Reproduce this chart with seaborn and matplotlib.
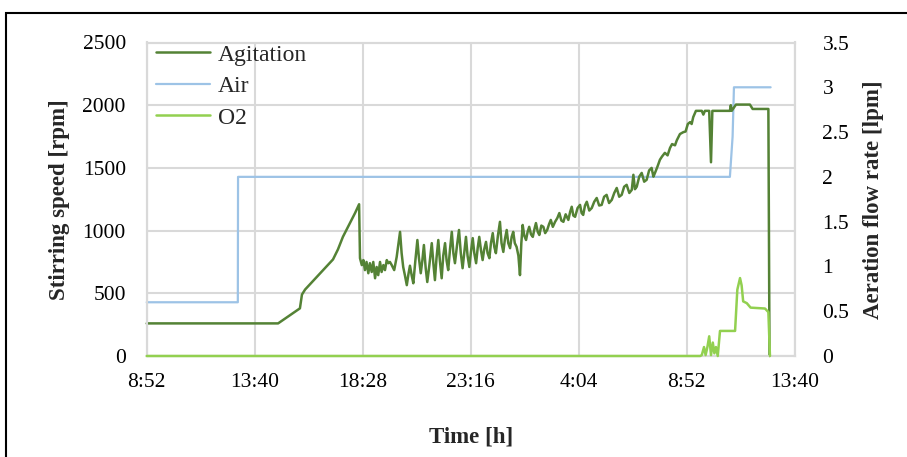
import matplotlib
matplotlib.use("Agg")
import matplotlib.pyplot as plt
from matplotlib.lines import Line2D
from matplotlib.patches import Rectangle
import seaborn as sns

# Time in hours after 8:52 (start of run)
agit_t = [0, 5.84, 6.81, 6.90, 7.04, 7.35, 7.61, 7.92, 8.28, 8.50, 8.72, 9.03, 9.26, 9.44,
          9.48, 9.56, 9.63, 9.70, 9.77, 9.85, 9.92, 10.00, 10.07, 10.15, 10.22, 10.29,
          10.37, 10.44, 10.52, 10.59, 10.67, 10.74, 10.81, 10.89, 11.00, 11.11, 11.26,
          11.33, 11.40, 11.48, 11.56, 11.63, 11.70, 11.78, 11.85, 11.94, 12.03, 12.10,
          12.18, 12.25, 12.32, 12.40, 12.47, 12.56, 12.67, 12.74, 12.81, 12.88, 12.96,
          13.03, 13.11, 13.18, 13.26, 13.33, 13.40, 13.48, 13.56, 13.63, 13.70, 13.79,
          13.88, 13.96, 14.04, 14.11, 14.19, 14.26, 14.34, 14.41, 14.49, 14.56, 14.64,
          14.71, 14.78, 14.86, 14.93, 15.00, 15.08, 15.15, 15.23, 15.30, 15.38, 15.45,
          15.52, 15.61, 15.70, 15.77, 15.85, 15.92, 16.00, 16.07, 16.15, 16.22, 16.29,
          16.36, 16.44, 16.52, 16.59, 16.65, 16.71, 16.78, 16.86, 16.93, 17.00, 17.08,
          17.16, 17.23, 17.30, 17.38, 17.45, 17.54, 17.63, 17.71, 17.80, 17.88, 17.96,
          18.05, 18.15, 18.25, 18.34, 18.43, 18.52, 18.62, 18.74, 18.82, 18.89, 18.96,
          19.04, 19.15, 19.26, 19.33, 19.40, 19.48, 19.56, 19.67, 19.78, 19.89, 20.00,
          20.11, 20.22, 20.33, 20.44, 20.55, 20.67, 20.78, 20.89, 21.00, 21.11, 21.22,
          21.33, 21.45, 21.56, 21.63, 21.70, 21.78, 21.89, 22.00, 22.11, 22.22, 22.33,
          22.44, 22.52, 22.59, 22.70, 22.81, 22.90, 23.03, 23.15, 23.26, 23.35, 23.48,
          23.56, 23.70, 23.85, 23.95, 24.05, 24.15, 24.22, 24.29, 24.41, 24.67, 24.74,
          24.81, 25.00, 25.08, 25.14, 25.92, 25.96, 26.00, 26.19, 26.81, 26.93, 27.63,
          27.68]
agit_rpm = [260, 260, 380, 490, 530, 590, 640, 700, 770, 850, 950, 1060, 1140, 1210,
            780, 725, 765, 685, 750, 660, 740, 670, 750, 620, 710, 645,
            750, 670, 725, 685, 765, 740, 750, 725, 685, 790, 990,
            820, 710, 640, 565, 650, 720, 640, 580, 760, 925, 780,
            660, 760, 885, 700, 590, 720, 900, 740, 605, 780, 925,
            760, 620, 800, 900, 760, 685, 850, 990, 820, 740, 880,
            1005, 820, 700, 820, 950, 800, 710, 830, 940, 820, 740,
            860, 950, 840, 765, 850, 910, 820, 780, 900, 980, 870,
            820, 960, 1070, 900, 830, 930, 1005, 900, 860, 950, 990,
            900, 870, 800, 645, 900, 1045, 960, 925, 990, 1030, 970,
            950, 1010, 1060, 990, 965, 1040, 1030, 980, 1005, 1050, 1085,
            1030, 1070, 1100, 1140, 1080, 1070, 1130, 1085, 1150, 1190, 1120,
            1110, 1180, 1205, 1140, 1125, 1200, 1230, 1160, 1180, 1230, 1260,
            1200, 1205, 1270, 1285, 1220, 1245, 1300, 1340, 1270, 1285, 1350,
            1365, 1300, 1325, 1445, 1330, 1350, 1430, 1460, 1390, 1405, 1480,
            1500, 1430, 1460, 1510, 1565, 1590, 1620, 1600, 1660, 1690, 1680,
            1720, 1770, 1785, 1790, 1850, 1865, 1850, 1905, 1955, 1955, 1925,
            1955, 1955, 1545, 1955, 1955, 2000, 1955, 2005, 2005, 1970, 1970,
            0]

air_t = [0, 4.05, 4.06, 25.92, 26.04, 26.10, 27.73]
air_lpm = [0.6, 0.6, 2.0, 2.0, 2.45, 3.0, 3.0]

o2_t = [0, 24.60, 24.67, 24.77, 24.84, 24.92, 25.00, 25.08, 25.16, 25.23, 25.30, 25.38,
        25.48, 26.15, 26.25, 26.37, 26.44, 26.51, 26.67, 26.84, 27.48, 27.63, 27.70]
o2_lpm = [0, 0, 0.01, 0.10, 0.01, 0.10, 0.22, 0.01, 0.15, 0.03, 0.10, 0.0,
          0.28, 0.28, 0.74, 0.87, 0.79, 0.61, 0.59, 0.54, 0.53, 0.49, 0.0]

x_ticks = [0, 4.8, 9.6, 14.4, 19.2, 24.0, 28.8]
x_labels = ["8:52", "13:40", "18:28", "23:16", "4:04", "8:52", "13:40"]
rpm_ticks = [0, 500, 1000, 1500, 2000, 2500]
lpm_ticks = [0, 0.5, 1, 1.5, 2, 2.5, 3, 3.5]
lpm_labels = ["0", "0.5", "1", "1.5", "2", "2.5", "3", "3.5"]

C_AGIT = "#548235"
C_AIR = "#9DC3E6"
C_O2 = "#92D050"
C_GRID = "#D9D9D9"

sns.set_theme(style="white")
plt.rcParams["font.family"] = ["Liberation Serif", "DejaVu Serif"]

fig = plt.figure(figsize=(9.07, 4.57), dpi=100)
ax = fig.add_axes([146.7 / 907, 1 - 356 / 457, 648 / 907, 313.5 / 457])
ax2 = ax.twinx()

sns.lineplot(x=air_t, y=air_lpm, ax=ax2, color=C_AIR, lw=1.6,
             estimator=None, sort=False)
sns.lineplot(x=o2_t, y=o2_lpm, ax=ax2, color=C_O2, lw=1.8,
             estimator=None, sort=False, zorder=3)
# agitation belongs to the left axis but is drawn on top of the right-axis lines
sns.lineplot(x=agit_t, y=agit_rpm, ax=ax2, color=C_AGIT, lw=1.8,
             estimator=None, sort=False, transform=ax.transData)
for ln in ax2.lines:
    ln.set_clip_on(False)

ax.set_xlim(0, 28.8)
ax.set_ylim(0, 2500)
ax2.set_ylim(0, 3.5)
ax.set_xticks(x_ticks)
ax.set_xticklabels(x_labels)
ax.set_yticks(rpm_ticks)
ax2.set_yticks(lpm_ticks)
ax2.set_yticklabels(lpm_labels)

ax.grid(True, color=C_GRID, lw=1.5)
ax2.grid(False)
for a in (ax, ax2):
    for s in a.spines.values():
        s.set_color(C_GRID)
        s.set_linewidth(1.5)
ax.tick_params(axis="both", length=0, labelsize=15.5, colors="black")
ax.tick_params(axis="y", pad=15)
ax.tick_params(axis="x", pad=12)
ax2.tick_params(axis="y", length=0, labelsize=15.5, pad=20, colors="black")

ax.set_xlabel("Time [h]", fontsize=16.5, fontweight="bold")
ax.set_ylabel("Stirring speed [rpm]", fontsize=16.5, fontweight="bold")
ax2.set_ylabel("Aeration flow rate [lpm]", fontsize=16.5, fontweight="bold")
ax.xaxis.label.set_va("center")
ax.yaxis.label.set_va("center")
ax2.yaxis.label.set_va("center")
ax.xaxis.set_label_coords(0.5, (356 - 437) / 313.5)
ax.yaxis.set_label_coords((59 - 146.7) / 648, 0.5)
ax2.yaxis.set_label_coords((873 - 146.7) / 648, 0.5)

handles = [Line2D([], [], color=C_AGIT, lw=1.8),
           Line2D([], [], color=C_AIR, lw=1.6),
           Line2D([], [], color=C_O2, lw=1.8)]
ax2.legend(handles, ["Agitation", "Air", "O2"], loc="upper left", frameon=False,
           fontsize=17, handlelength=2.3, handletextpad=0.3, labelspacing=0.42,
           borderaxespad=0.0, bbox_to_anchor=(0.0, 1.025))

# outer chart-area border
fig.patches.append(Rectangle((6 / 907, -0.1), 1.2, 1.1 - 13 / 457,
                             transform=fig.transFigure, fill=False,
                             edgecolor="black", lw=1.5))

fig.savefig("out.png", dpi=100)
